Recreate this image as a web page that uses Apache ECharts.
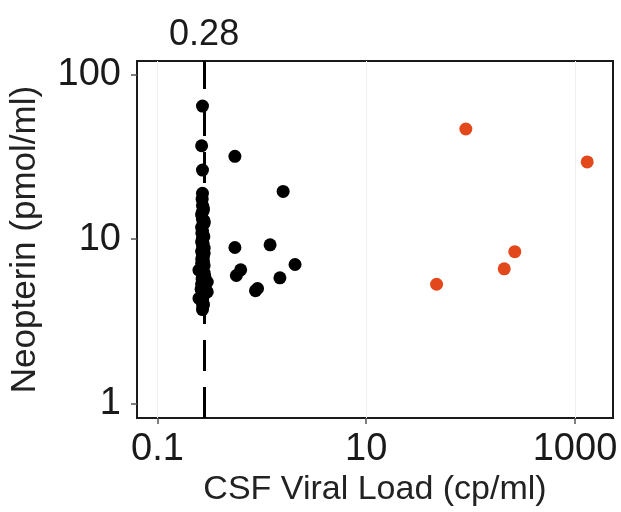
<!DOCTYPE html>
<html>
<head>
<meta charset="utf-8">
<script src="https://cdn.jsdelivr.net/npm/echarts@6/dist/echarts.min.js"></script>
<style>
html,body{margin:0;padding:0;background:#fff;}
#chart{width:621px;height:512px;}
</style>
</head>
<body>
<div id="chart"></div>
<script>
// Tick labels
const xTicks = [0.1, 10, 1000];
const yTicks = [1, 10, 100];
const threshold = 0.28;

// Undetectable / low viral load (black)
const blackX = [0.27, 0.265, 0.27, 0.27, 0.268,
  0.27, 0.275, 0.265, 0.27, 0.28, 0.265, 0.27, 0.275, 0.27, 0.265,
  0.27, 0.28, 0.265, 0.27, 0.275, 0.27, 0.265, 0.28, 0.27, 0.25,
  0.275, 0.27, 0.285, 0.30, 0.27, 0.265, 0.28, 0.30, 0.27, 0.25,
  0.275, 0.27, 0.27,
  0.275, 0.268, 0.28, 0.272, 0.266, 0.278, 0.27, 0.274, 0.268, 0.28,
  0.272, 0.266, 0.276, 0.27, 0.28, 0.268, 0.274, 0.262, 0.278, 0.27,
  0.276, 0.272,
  0.552, 1.60, 0.552, 1.20, 2.08, 0.627, 0.57, 1.49, 0.87, 0.91];
const blackY = [64.5, 37, 26.3, 19, 17.5,
  16, 15, 14, 13.2, 12.5, 11.8, 11.2, 10.6, 10.1, 9.6,
  9.2, 8.8, 8.4, 8.0, 7.7, 7.4, 7.1, 6.9, 6.7, 6.47,
  6.3, 6.1, 5.9, 5.48, 5.5, 5.3, 5.1, 4.77, 4.9, 4.35,
  4.5, 4.1, 3.72,
  15.5, 14.5, 12.9, 12.2, 10.9, 10.3, 9.9, 9.4, 8.6, 8.2,
  7.85, 7.55, 7.25, 6.6, 6.2, 5.7, 5.2, 4.95, 4.6, 4.25,
  4.0, 3.9,
  31.9, 19.5, 8.89, 9.23, 7.0, 6.5, 6.0, 5.81, 4.85, 5.0];

// Detectable viral load (red)
const redX = [90, 1309, 265, 210, 47.2];
const redY = [46.8, 29.5, 8.38, 6.59, 5.31];

const zip = (a, b) => a.map((v, i) => [v, b[i]]);
const fmt = v => String(+(+v).toPrecision(6));
const FONT = '"Liberation Sans", Arial, Helvetica, sans-serif';

const chart = echarts.init(document.getElementById('chart'), null, {renderer: 'canvas'});
chart.setOption({
  animation: false,
  backgroundColor: '#fff',
  grid: {left: 137, right: 8, top: 61, bottom: 89, show: true,
         borderColor: '#1a1a1a', borderWidth: 2, backgroundColor: 'transparent'},
  xAxis: {
    type: 'log', logBase: 10, min: 0.0637, max: 2312,
    name: 'CSF Viral Load (cp/ml)', nameLocation: 'middle', nameGap: 52,
    nameTextStyle: {fontFamily: FONT, fontSize: 34, color: '#222', verticalAlign: 'top'},
    axisLine: {show: false},
    axisTick: {show: true, inside: false, length: 6, customValues: xTicks,
               lineStyle: {color: '#555', width: 1.5}},
    axisLabel: {customValues: xTicks, fontFamily: FONT, fontSize: 38, color: '#1a1a1a',
                margin: 12, formatter: fmt, showMinLabel: true, showMaxLabel: true},
    splitLine: {show: true, lineStyle: {color: '#f0f0f0', width: 1}},
    minorTick: {show: false}, minorSplitLine: {show: false}
  },
  yAxis: {
    type: 'log', logBase: 10, min: 0.813, max: 121.4,
    name: 'Neopterin (pmol/ml)', nameLocation: 'middle', nameGap: 94,
    nameTextStyle: {fontFamily: FONT, fontSize: 35, color: '#222'},
    axisLine: {show: false},
    axisTick: {show: true, inside: false, length: 6, customValues: yTicks,
               lineStyle: {color: '#555', width: 1.5}},
    axisLabel: {customValues: yTicks, fontFamily: FONT, fontSize: 38, color: '#1a1a1a',
                margin: 16, formatter: fmt},
    splitLine: {show: false}
  },
  series: [
    {
      type: 'scatter', name: 'low', data: zip(blackX, blackY),
      symbol: 'circle', symbolSize: 13,
      itemStyle: {color: '#000', opacity: 1},
      markLine: {
        silent: true, symbol: ['none', 'none'],
        lineStyle: {color: '#000', width: 3, type: [31, 16]},
        label: {show: true, position: 'end', distance: 8, formatter: fmt(threshold),
                fontFamily: FONT, fontSize: 36, color: '#1a1a1a'},
        data: [{xAxis: threshold}]
      },
      z: 3
    },
    {
      type: 'scatter', name: 'high', data: zip(redX, redY),
      symbol: 'circle', symbolSize: 13,
      itemStyle: {color: '#e2481c', opacity: 1},
      z: 3
    }
  ]
});
</script>
</body>
</html>
